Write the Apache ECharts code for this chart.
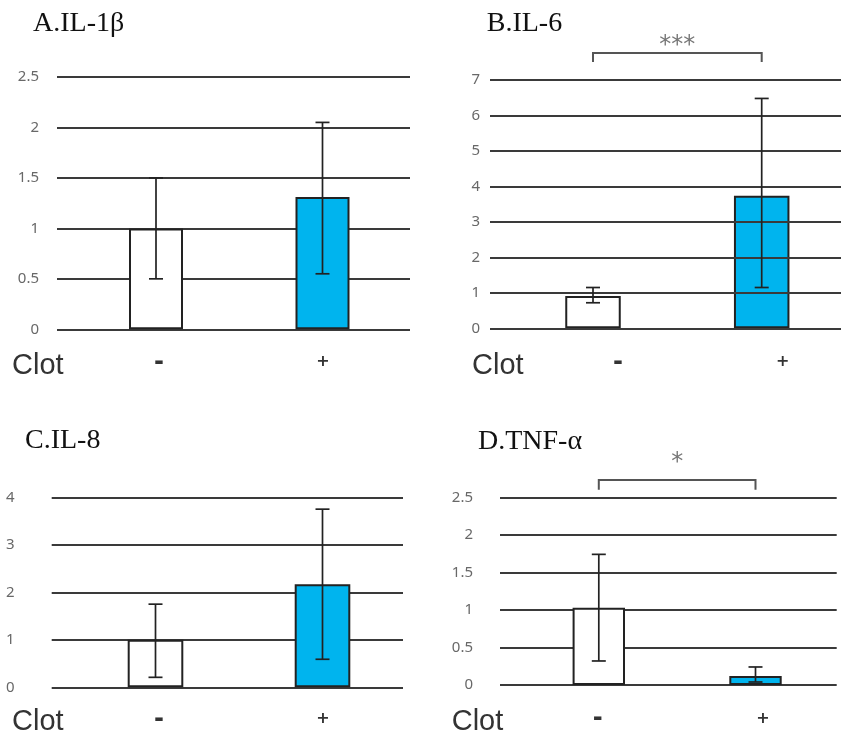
<!DOCTYPE html>
<html>
<head>
<meta charset="utf-8">
<script src="https://cdn.jsdelivr.net/npm/echarts@6/dist/echarts.min.js"></script>
<style>html,body{margin:0;padding:0;background:#fff;}#c{width:841px;height:742px;}</style>
</head>
<body>
<div id="c"></div>
<script>
// ---- data ----
const categories = ['-', '+'];
const xName = 'Clot';
const titles = ['A.IL-1β', 'B.IL-6', 'C.IL-8', 'D.TNF-α'];

const il1bMean = [1.00, 1.31];
const il1bLow  = [0.50, 0.55];
const il1bHigh = [1.50, 2.05];

const il6Mean = [0.91, 3.74];
const il6Low  = [0.72, 1.15];
const il6High = [1.15, 6.48];

const il8Mean = [1.00, 2.17];
const il8Low  = [0.21, 0.59];
const il8High = [1.75, 3.75];

const tnfMean = [1.03, 0.12];
const tnfLow  = [0.32, 0.04];
const tnfHigh = [1.74, 0.24];

const yMaxes = [2.5, 7, 4, 2.5];
const ySteps = [0.5, 1, 1, 0.5];
const sigMarks = ['', '***', '', '*'];

// ---- layout / style ----
const panelsData = [
  {mean: il1bMean, low: il1bLow, high: il1bHigh},
  {mean: il6Mean, low: il6Low, high: il6High},
  {mean: il8Mean, low: il8Low, high: il8High},
  {mean: tnfMean, low: tnfLow, high: tnfHigh}
];
const layout = [
  {line: {left: 57, top: 77, width: 353, height: 252.3}, bar: {left: 72.75, width: 333}, barW: 54,
   yMargin: 18, xMargin: 21, shift: [3, 0.5], title: [33, 26], clot: [12, 368], gridOver: false},
  {line: {left: 490, top: 80, width: 351, height: 248.3}, bar: {left: 508.65, width: 337.4}, barW: 55.5,
   yMargin: 10, xMargin: 22, shift: [25, 21], title: [486.7, 26], clot: [472, 368], gridOver: true,
   bracket: [7.51, 7.76, 7.97]},
  {line: {left: 51.7, top: 497.3, width: 351.3, height: 190}, bar: {left: 72, width: 334}, barW: 55.6,
   yMargin: 37, xMargin: 20, shift: [3.5, 0.5], title: [25, 443], clot: [12, 724], gridOver: false},
  {line: {left: 500, top: 497.3, width: 336.7, height: 187.7}, bar: {left: 520.45, width: 313.4}, barW: 52.4,
   yMargin: 27, xMargin: 22, shift: [-1, 7.5], title: [478, 444], clot: [451.7, 724], gridOver: false,
   bracket: [2.60, 2.73, 2.96]}
];
const labelFont = [{size: 24, padTop: 0}, {size: 16, padTop: 4}];
const BLUE = '#00B4EE';
const INK = '#222';
const GRID_COLOR = '#3a3a3a';

const grids = [], xAxes = [], yAxes = [], series = [], graphics = [];

layout.forEach((L, k) => {
  const d = panelsData[k];
  const lineIdx = 2 * k, barIdx = 2 * k + 1;
  grids.push({left: L.line.left, top: L.line.top, width: L.line.width, height: L.line.height, outerBoundsMode: 'none', containLabel: false});
  grids.push({left: L.bar.left, top: L.line.top, width: L.bar.width, height: L.line.height, outerBoundsMode: 'none', containLabel: false});

  xAxes.push({gridIndex: lineIdx, type: 'value', show: false, min: 0, max: 1});
  yAxes.push({
    gridIndex: lineIdx, type: 'value', min: 0, max: yMaxes[k], interval: ySteps[k],
    z: L.gridOver ? 3 : 0,
    axisLine: {show: false}, axisTick: {show: false},
    axisLabel: {margin: L.yMargin, fontSize: 15, color: '#686868', fontFamily: 'Noto Sans'},
    splitLine: {show: true, lineStyle: {color: GRID_COLOR, width: 2}}
  });

  const rich = {};
  L.shift.forEach((s, i) => {
    rich['s' + i] = {
      fontSize: labelFont[i].size, fontWeight: 'bold', color: '#333', fontFamily: 'DejaVu Sans',
      padding: s >= 0 ? [labelFont[i].padTop, 0, 0, 2 * s] : [labelFont[i].padTop, -2 * s, 0, 0]
    };
  });
  xAxes.push({
    gridIndex: barIdx, type: 'category', data: categories,
    axisLine: {show: false}, axisTick: {show: false},
    axisLabel: {margin: L.xMargin, formatter: (v, i) => '{s' + i + '|' + v + '}', rich: rich}
  });
  yAxes.push({gridIndex: barIdx, type: 'value', min: 0, max: yMaxes[k], interval: ySteps[k], show: false});

  series.push({
    type: 'bar', xAxisIndex: barIdx, yAxisIndex: barIdx, barWidth: L.barW, z: 2,
    data: d.mean.map((v, i) => ({value: v, itemStyle: {color: i === 0 ? '#ffffff' : BLUE}})),
    itemStyle: {borderColor: INK, borderWidth: 2}
  });

  series.push({
    type: 'custom', xAxisIndex: barIdx, yAxisIndex: barIdx, z: 5,
    data: categories.map((c, i) => [i, d.low[i], d.high[i]]),
    renderItem: (params, api) => {
      const x = api.value(0);
      const pHi = api.coord([x, api.value(2)]);
      const pLo = api.coord([x, api.value(1)]);
      const h = 7;
      const st = {stroke: INK, lineWidth: 1.7};
      return {type: 'group', children: [
        {type: 'line', shape: {x1: pHi[0], y1: pHi[1], x2: pLo[0], y2: pLo[1]}, style: st},
        {type: 'line', shape: {x1: pHi[0] - h, y1: pHi[1], x2: pHi[0] + h, y2: pHi[1]}, style: st},
        {type: 'line', shape: {x1: pLo[0] - h, y1: pLo[1], x2: pLo[0] + h, y2: pLo[1]}, style: st}
      ]};
    }
  });

  if (L.bracket && sigMarks[k]) {
    const b = L.bracket;
    series.push({
      type: 'custom', xAxisIndex: barIdx, yAxisIndex: barIdx, z: 5, clip: false,
      data: [[0, 1, b[0], b[1], b[2]]],
      renderItem: (params, api) => {
        const p0 = api.coord([api.value(0), api.value(2)]);
        const p0t = api.coord([api.value(0), api.value(3)]);
        const p1 = api.coord([api.value(1), api.value(2)]);
        const p1t = api.coord([api.value(1), api.value(3)]);
        const ps = api.coord([0, api.value(4)]);
        const cx = (p0[0] + p1[0]) / 2;
        return {type: 'group', children: [
          {type: 'polyline', shape: {points: [p0, p0t, p1t, p1]}, style: {stroke: '#555', lineWidth: 2, fill: null}},
          {type: 'text', style: {text: sigMarks[k], x: cx, y: ps[1], align: 'center', verticalAlign: 'middle',
            fontSize: 24, fill: '#777', fontFamily: 'DejaVu Sans'}}
        ]};
      }
    });
  }

  graphics.push({type: 'text', left: L.title[0], top: L.title[1] - 16,
    style: {text: titles[k], fontSize: 28, fontFamily: 'Liberation Serif', fill: '#111'}});
  graphics.push({type: 'text', left: L.clot[0], top: L.clot[1] - 17,
    style: {text: xName, fontSize: 29, fontFamily: 'Liberation Sans', fill: '#333'}});
});

const chart = echarts.init(document.getElementById('c'), null, {renderer: 'canvas'});
chart.setOption({
  animation: false,
  backgroundColor: '#ffffff',
  grid: grids, xAxis: xAxes, yAxis: yAxes, series: series, graphic: graphics
});
</script>
</body>
</html>
